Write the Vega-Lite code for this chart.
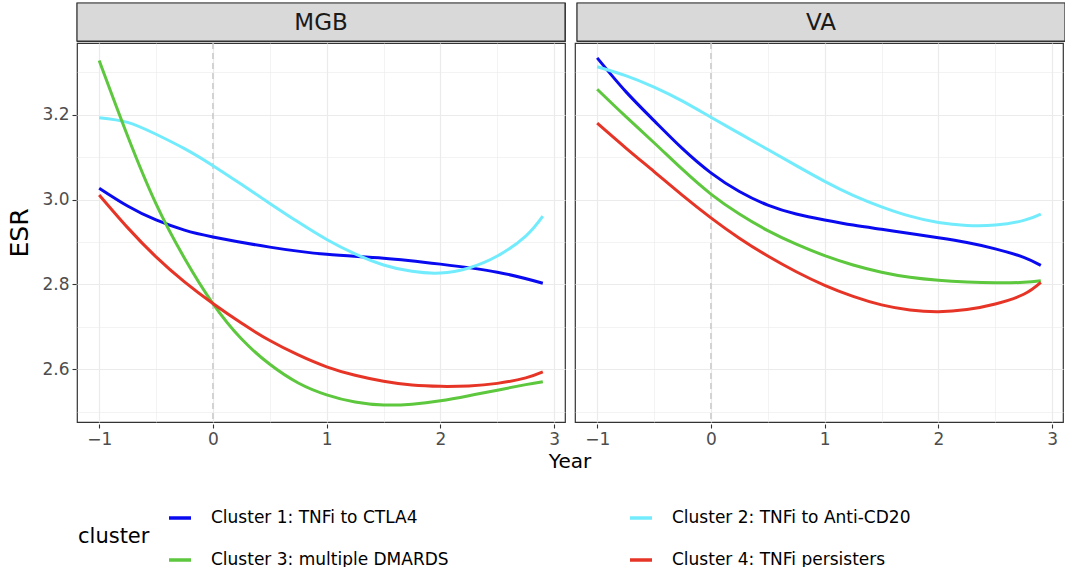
{
  "$schema": "https://vega.github.io/schema/vega-lite/v6.json",
  "padding": {"left": 7, "top": 1, "right": 0, "bottom": 0},
  "background": "white",
  "config": {
    "font": "DejaVu Sans",
    "view": {"stroke": "#333333", "strokeWidth": 1.2, "fill": "white"},
    "axis": {
      "domain": false,
      "tickColor": "#333333",
      "tickSize": 4,
      "tickWidth": 1.1,
      "labelColor": "#4D4D4D",
      "labelFontSize": 17,
      "labelFont": "DejaVu Sans",
      "gridColor": "#EBEBEB",
      "titleFont": "DejaVu Sans",
      "titleFontWeight": "normal",
      "titleColor": "#000000"
    },
    "legend": {"labelFont": "DejaVu Sans", "titleFont": "DejaVu Sans"}
  },
  "datasets": {
    "panels": [{"panel": "MGB"}, {"panel": "VA"}],
    "curves": [
      {"panel": "MGB", "cluster": "Cluster 1: TNFi to CTLA4", "year": -1, "esr": 3.027},
      {"panel": "MGB", "cluster": "Cluster 1: TNFi to CTLA4", "year": -0.75, "esr": 2.985},
      {"panel": "MGB", "cluster": "Cluster 1: TNFi to CTLA4", "year": -0.5, "esr": 2.952},
      {"panel": "MGB", "cluster": "Cluster 1: TNFi to CTLA4", "year": -0.25, "esr": 2.928},
      {"panel": "MGB", "cluster": "Cluster 1: TNFi to CTLA4", "year": 0, "esr": 2.912},
      {"panel": "MGB", "cluster": "Cluster 1: TNFi to CTLA4", "year": 0.5, "esr": 2.888},
      {"panel": "MGB", "cluster": "Cluster 1: TNFi to CTLA4", "year": 1, "esr": 2.871},
      {"panel": "MGB", "cluster": "Cluster 1: TNFi to CTLA4", "year": 1.5, "esr": 2.862},
      {"panel": "MGB", "cluster": "Cluster 1: TNFi to CTLA4", "year": 2, "esr": 2.848},
      {"panel": "MGB", "cluster": "Cluster 1: TNFi to CTLA4", "year": 2.5, "esr": 2.829},
      {"panel": "MGB", "cluster": "Cluster 1: TNFi to CTLA4", "year": 2.9, "esr": 2.803},
      {"panel": "MGB", "cluster": "Cluster 2: TNFi to Anti-CD20", "year": -1, "esr": 3.193},
      {"panel": "MGB", "cluster": "Cluster 2: TNFi to Anti-CD20", "year": -0.75, "esr": 3.182},
      {"panel": "MGB", "cluster": "Cluster 2: TNFi to Anti-CD20", "year": -0.5, "esr": 3.154},
      {"panel": "MGB", "cluster": "Cluster 2: TNFi to Anti-CD20", "year": -0.25, "esr": 3.12},
      {"panel": "MGB", "cluster": "Cluster 2: TNFi to Anti-CD20", "year": 0, "esr": 3.08},
      {"panel": "MGB", "cluster": "Cluster 2: TNFi to Anti-CD20", "year": 0.25, "esr": 3.036},
      {"panel": "MGB", "cluster": "Cluster 2: TNFi to Anti-CD20", "year": 0.5, "esr": 2.991},
      {"panel": "MGB", "cluster": "Cluster 2: TNFi to Anti-CD20", "year": 0.75, "esr": 2.947},
      {"panel": "MGB", "cluster": "Cluster 2: TNFi to Anti-CD20", "year": 1, "esr": 2.906},
      {"panel": "MGB", "cluster": "Cluster 2: TNFi to Anti-CD20", "year": 1.25, "esr": 2.872},
      {"panel": "MGB", "cluster": "Cluster 2: TNFi to Anti-CD20", "year": 1.5, "esr": 2.846},
      {"panel": "MGB", "cluster": "Cluster 2: TNFi to Anti-CD20", "year": 1.75, "esr": 2.831},
      {"panel": "MGB", "cluster": "Cluster 2: TNFi to Anti-CD20", "year": 2, "esr": 2.827},
      {"panel": "MGB", "cluster": "Cluster 2: TNFi to Anti-CD20", "year": 2.25, "esr": 2.839},
      {"panel": "MGB", "cluster": "Cluster 2: TNFi to Anti-CD20", "year": 2.5, "esr": 2.867},
      {"panel": "MGB", "cluster": "Cluster 2: TNFi to Anti-CD20", "year": 2.75, "esr": 2.914},
      {"panel": "MGB", "cluster": "Cluster 2: TNFi to Anti-CD20", "year": 2.9, "esr": 2.961},
      {"panel": "MGB", "cluster": "Cluster 3: multiple DMARDS", "year": -1, "esr": 3.328},
      {"panel": "MGB", "cluster": "Cluster 3: multiple DMARDS", "year": -0.75, "esr": 3.15},
      {"panel": "MGB", "cluster": "Cluster 3: multiple DMARDS", "year": -0.5, "esr": 2.99},
      {"panel": "MGB", "cluster": "Cluster 3: multiple DMARDS", "year": -0.25, "esr": 2.862},
      {"panel": "MGB", "cluster": "Cluster 3: multiple DMARDS", "year": 0, "esr": 2.755},
      {"panel": "MGB", "cluster": "Cluster 3: multiple DMARDS", "year": 0.25, "esr": 2.672},
      {"panel": "MGB", "cluster": "Cluster 3: multiple DMARDS", "year": 0.5, "esr": 2.612},
      {"panel": "MGB", "cluster": "Cluster 3: multiple DMARDS", "year": 0.75, "esr": 2.568},
      {"panel": "MGB", "cluster": "Cluster 3: multiple DMARDS", "year": 1, "esr": 2.54},
      {"panel": "MGB", "cluster": "Cluster 3: multiple DMARDS", "year": 1.25, "esr": 2.523},
      {"panel": "MGB", "cluster": "Cluster 3: multiple DMARDS", "year": 1.5, "esr": 2.516},
      {"panel": "MGB", "cluster": "Cluster 3: multiple DMARDS", "year": 1.75, "esr": 2.518},
      {"panel": "MGB", "cluster": "Cluster 3: multiple DMARDS", "year": 2, "esr": 2.526},
      {"panel": "MGB", "cluster": "Cluster 3: multiple DMARDS", "year": 2.25, "esr": 2.538},
      {"panel": "MGB", "cluster": "Cluster 3: multiple DMARDS", "year": 2.5, "esr": 2.551},
      {"panel": "MGB", "cluster": "Cluster 3: multiple DMARDS", "year": 2.75, "esr": 2.564},
      {"panel": "MGB", "cluster": "Cluster 3: multiple DMARDS", "year": 2.9, "esr": 2.571},
      {"panel": "MGB", "cluster": "Cluster 4: TNFi persisters", "year": -1, "esr": 3.011},
      {"panel": "MGB", "cluster": "Cluster 4: TNFi persisters", "year": -0.75, "esr": 2.934},
      {"panel": "MGB", "cluster": "Cluster 4: TNFi persisters", "year": -0.5, "esr": 2.865},
      {"panel": "MGB", "cluster": "Cluster 4: TNFi persisters", "year": -0.25, "esr": 2.806},
      {"panel": "MGB", "cluster": "Cluster 4: TNFi persisters", "year": 0, "esr": 2.755},
      {"panel": "MGB", "cluster": "Cluster 4: TNFi persisters", "year": 0.25, "esr": 2.709},
      {"panel": "MGB", "cluster": "Cluster 4: TNFi persisters", "year": 0.5, "esr": 2.668},
      {"panel": "MGB", "cluster": "Cluster 4: TNFi persisters", "year": 0.75, "esr": 2.634},
      {"panel": "MGB", "cluster": "Cluster 4: TNFi persisters", "year": 1, "esr": 2.606},
      {"panel": "MGB", "cluster": "Cluster 4: TNFi persisters", "year": 1.25, "esr": 2.586},
      {"panel": "MGB", "cluster": "Cluster 4: TNFi persisters", "year": 1.5, "esr": 2.572},
      {"panel": "MGB", "cluster": "Cluster 4: TNFi persisters", "year": 1.75, "esr": 2.563},
      {"panel": "MGB", "cluster": "Cluster 4: TNFi persisters", "year": 2, "esr": 2.56},
      {"panel": "MGB", "cluster": "Cluster 4: TNFi persisters", "year": 2.25, "esr": 2.561},
      {"panel": "MGB", "cluster": "Cluster 4: TNFi persisters", "year": 2.5, "esr": 2.567},
      {"panel": "MGB", "cluster": "Cluster 4: TNFi persisters", "year": 2.75, "esr": 2.58},
      {"panel": "MGB", "cluster": "Cluster 4: TNFi persisters", "year": 2.9, "esr": 2.594},
      {"panel": "VA", "cluster": "Cluster 1: TNFi to CTLA4", "year": -1, "esr": 3.334},
      {"panel": "VA", "cluster": "Cluster 1: TNFi to CTLA4", "year": -0.75, "esr": 3.255},
      {"panel": "VA", "cluster": "Cluster 1: TNFi to CTLA4", "year": -0.5, "esr": 3.186},
      {"panel": "VA", "cluster": "Cluster 1: TNFi to CTLA4", "year": -0.25, "esr": 3.12},
      {"panel": "VA", "cluster": "Cluster 1: TNFi to CTLA4", "year": 0, "esr": 3.063},
      {"panel": "VA", "cluster": "Cluster 1: TNFi to CTLA4", "year": 0.25, "esr": 3.019},
      {"panel": "VA", "cluster": "Cluster 1: TNFi to CTLA4", "year": 0.5, "esr": 2.987},
      {"panel": "VA", "cluster": "Cluster 1: TNFi to CTLA4", "year": 0.75, "esr": 2.966},
      {"panel": "VA", "cluster": "Cluster 1: TNFi to CTLA4", "year": 1, "esr": 2.952},
      {"panel": "VA", "cluster": "Cluster 1: TNFi to CTLA4", "year": 1.25, "esr": 2.94},
      {"panel": "VA", "cluster": "Cluster 1: TNFi to CTLA4", "year": 1.5, "esr": 2.93},
      {"panel": "VA", "cluster": "Cluster 1: TNFi to CTLA4", "year": 1.75, "esr": 2.92},
      {"panel": "VA", "cluster": "Cluster 1: TNFi to CTLA4", "year": 2, "esr": 2.91},
      {"panel": "VA", "cluster": "Cluster 1: TNFi to CTLA4", "year": 2.25, "esr": 2.899},
      {"panel": "VA", "cluster": "Cluster 1: TNFi to CTLA4", "year": 2.5, "esr": 2.884},
      {"panel": "VA", "cluster": "Cluster 1: TNFi to CTLA4", "year": 2.75, "esr": 2.864},
      {"panel": "VA", "cluster": "Cluster 1: TNFi to CTLA4", "year": 2.9, "esr": 2.845},
      {"panel": "VA", "cluster": "Cluster 2: TNFi to Anti-CD20", "year": -1, "esr": 3.313},
      {"panel": "VA", "cluster": "Cluster 2: TNFi to Anti-CD20", "year": -0.75, "esr": 3.292},
      {"panel": "VA", "cluster": "Cluster 2: TNFi to Anti-CD20", "year": -0.5, "esr": 3.265},
      {"panel": "VA", "cluster": "Cluster 2: TNFi to Anti-CD20", "year": -0.25, "esr": 3.232},
      {"panel": "VA", "cluster": "Cluster 2: TNFi to Anti-CD20", "year": 0, "esr": 3.194},
      {"panel": "VA", "cluster": "Cluster 2: TNFi to Anti-CD20", "year": 0.25, "esr": 3.156},
      {"panel": "VA", "cluster": "Cluster 2: TNFi to Anti-CD20", "year": 0.5, "esr": 3.118},
      {"panel": "VA", "cluster": "Cluster 2: TNFi to Anti-CD20", "year": 0.75, "esr": 3.08},
      {"panel": "VA", "cluster": "Cluster 2: TNFi to Anti-CD20", "year": 1, "esr": 3.043},
      {"panel": "VA", "cluster": "Cluster 2: TNFi to Anti-CD20", "year": 1.25, "esr": 3.01},
      {"panel": "VA", "cluster": "Cluster 2: TNFi to Anti-CD20", "year": 1.5, "esr": 2.983},
      {"panel": "VA", "cluster": "Cluster 2: TNFi to Anti-CD20", "year": 1.75, "esr": 2.961},
      {"panel": "VA", "cluster": "Cluster 2: TNFi to Anti-CD20", "year": 2, "esr": 2.946},
      {"panel": "VA", "cluster": "Cluster 2: TNFi to Anti-CD20", "year": 2.25, "esr": 2.939},
      {"panel": "VA", "cluster": "Cluster 2: TNFi to Anti-CD20", "year": 2.5, "esr": 2.94},
      {"panel": "VA", "cluster": "Cluster 2: TNFi to Anti-CD20", "year": 2.75, "esr": 2.951},
      {"panel": "VA", "cluster": "Cluster 2: TNFi to Anti-CD20", "year": 2.9, "esr": 2.966},
      {"panel": "VA", "cluster": "Cluster 3: multiple DMARDS", "year": -1, "esr": 3.26},
      {"panel": "VA", "cluster": "Cluster 3: multiple DMARDS", "year": -0.75, "esr": 3.196},
      {"panel": "VA", "cluster": "Cluster 3: multiple DMARDS", "year": -0.5, "esr": 3.134},
      {"panel": "VA", "cluster": "Cluster 3: multiple DMARDS", "year": -0.25, "esr": 3.071},
      {"panel": "VA", "cluster": "Cluster 3: multiple DMARDS", "year": 0, "esr": 3.013},
      {"panel": "VA", "cluster": "Cluster 3: multiple DMARDS", "year": 0.25, "esr": 2.966},
      {"panel": "VA", "cluster": "Cluster 3: multiple DMARDS", "year": 0.5, "esr": 2.927},
      {"panel": "VA", "cluster": "Cluster 3: multiple DMARDS", "year": 0.75, "esr": 2.895},
      {"panel": "VA", "cluster": "Cluster 3: multiple DMARDS", "year": 1, "esr": 2.868},
      {"panel": "VA", "cluster": "Cluster 3: multiple DMARDS", "year": 1.25, "esr": 2.846},
      {"panel": "VA", "cluster": "Cluster 3: multiple DMARDS", "year": 1.5, "esr": 2.829},
      {"panel": "VA", "cluster": "Cluster 3: multiple DMARDS", "year": 1.75, "esr": 2.817},
      {"panel": "VA", "cluster": "Cluster 3: multiple DMARDS", "year": 2, "esr": 2.81},
      {"panel": "VA", "cluster": "Cluster 3: multiple DMARDS", "year": 2.25, "esr": 2.806},
      {"panel": "VA", "cluster": "Cluster 3: multiple DMARDS", "year": 2.5, "esr": 2.804},
      {"panel": "VA", "cluster": "Cluster 3: multiple DMARDS", "year": 2.75, "esr": 2.805},
      {"panel": "VA", "cluster": "Cluster 3: multiple DMARDS", "year": 2.9, "esr": 2.809},
      {"panel": "VA", "cluster": "Cluster 4: TNFi persisters", "year": -1, "esr": 3.18},
      {"panel": "VA", "cluster": "Cluster 4: TNFi persisters", "year": -0.75, "esr": 3.122},
      {"panel": "VA", "cluster": "Cluster 4: TNFi persisters", "year": -0.5, "esr": 3.066},
      {"panel": "VA", "cluster": "Cluster 4: TNFi persisters", "year": -0.25, "esr": 3.01},
      {"panel": "VA", "cluster": "Cluster 4: TNFi persisters", "year": 0, "esr": 2.957},
      {"panel": "VA", "cluster": "Cluster 4: TNFi persisters", "year": 0.25, "esr": 2.909},
      {"panel": "VA", "cluster": "Cluster 4: TNFi persisters", "year": 0.5, "esr": 2.867},
      {"panel": "VA", "cluster": "Cluster 4: TNFi persisters", "year": 0.75, "esr": 2.83},
      {"panel": "VA", "cluster": "Cluster 4: TNFi persisters", "year": 1, "esr": 2.798},
      {"panel": "VA", "cluster": "Cluster 4: TNFi persisters", "year": 1.25, "esr": 2.772},
      {"panel": "VA", "cluster": "Cluster 4: TNFi persisters", "year": 1.5, "esr": 2.752},
      {"panel": "VA", "cluster": "Cluster 4: TNFi persisters", "year": 1.75, "esr": 2.74},
      {"panel": "VA", "cluster": "Cluster 4: TNFi persisters", "year": 2, "esr": 2.736},
      {"panel": "VA", "cluster": "Cluster 4: TNFi persisters", "year": 2.25, "esr": 2.741},
      {"panel": "VA", "cluster": "Cluster 4: TNFi persisters", "year": 2.5, "esr": 2.754},
      {"panel": "VA", "cluster": "Cluster 4: TNFi persisters", "year": 2.75, "esr": 2.777},
      {"panel": "VA", "cluster": "Cluster 4: TNFi persisters", "year": 2.9, "esr": 2.805}
    ]
  },
  "spacing": -3,
  "vconcat": [
    {
      "data": {"name": "panels"},
      "facet": {"column": {"field": "panel", "type": "nominal", "header": {"title": null, "labels": false, "labelPadding": 0, "titlePadding": 0}}},
      "spacing": 8,
      "spec": {
        "width": 488, "height": 38,
        "layer": [
          {
            "mark": {"type": "rect", "color": "#D9D9D9", "stroke": "#333333", "strokeWidth": 1.2},
            "encoding": {"x": {"value": 0}, "x2": {"value": "width"}, "y": {"value": 0}, "y2": {"value": "height"}}
          },
          {
            "mark": {"type": "text", "fontSize": 23, "color": "#1A1A1A", "font": "DejaVu Sans", "baseline": "middle", "dy": 1},
            "encoding": {"text": {"field": "panel", "type": "nominal"}}
          }
        ]
      }
    },
    {
      "data": {"name": "curves"},
      "facet": {
        "column": {
          "field": "panel", "type": "nominal",
          "header": {
            "title": "Year", "titleOrient": "bottom", "titleFontSize": 20, "titleFont": "DejaVu Sans", "titleColor": "#000000",
            "titleFontWeight": "normal", "titlePadding": -5, "labels": false, "labelPadding": 0
          }
        }
      },
      "spacing": 8,
      "spec": {
        "width": 488, "height": 379,
        "layer": [
          {
            "transform": [{"filter": "datum.year == 0 && datum.cluster == 'Cluster 1: TNFi to CTLA4'"}],
            "mark": {"type": "rule", "strokeDash": [6, 4], "color": "#BEBEBE", "strokeWidth": 1.2},
            "encoding": {"x": {"field": "year", "type": "quantitative", "scale": {"domain": [-1.195, 3.095], "nice": false, "zero": false}}}
          },
          {
            "mark": {"type": "line", "interpolate": "natural", "strokeWidth": 3},
            "encoding": {
              "x": {
                "field": "year", "type": "quantitative",
                "scale": {"domain": [-1.195, 3.095], "nice": false, "zero": false},
                "axis": {
                  "title": null,
                  "values": [-1, -0.5, 0, 0.5, 1, 1.5, 2, 2.5, 3],
                  "labelExpr": "datum.value % 1 == 0 ? format(datum.value, 'd') : ''",
                  "tickOpacity": {"condition": {"test": "datum.value % 1 == 0", "value": 1}, "value": 0},
                  "gridWidth": {"condition": {"test": "datum.value % 1 == 0", "value": 1.2}, "value": 0.6},
                  "labelPadding": 3
                }
              },
              "y": {
                "field": "esr", "type": "quantitative",
                "scale": {"domain": [2.476, 3.369], "nice": false, "zero": false},
                "axis": {
                  "title": "ESR", "titlePadding": 9, "titleFontSize": 25,
                  "values": [2.5, 2.6, 2.7, 2.8, 2.9, 3.0, 3.1, 3.2, 3.3],
                  "labelExpr": "round(datum.value * 10) % 2 == 0 ? format(datum.value, '.1f') : ''",
                  "tickOpacity": {"condition": {"test": "round(datum.value * 10) % 2 == 0", "value": 1}, "value": 0},
                  "gridWidth": {"condition": {"test": "round(datum.value * 10) % 2 == 0", "value": 1.2}, "value": 0.6},
                  "labelPadding": 3
                }
              },
              "color": {
                "field": "cluster", "type": "nominal",
                "scale": {
                  "domain": ["Cluster 1: TNFi to CTLA4", "Cluster 2: TNFi to Anti-CD20", "Cluster 3: multiple DMARDS", "Cluster 4: TNFi persisters"],
                  "range": ["#0A0AF0", "#72ECFC", "#5DC73E", "#E63426"]
                },
                "legend": {
                  "title": "cluster", "orient": "none", "legendX": 1, "legendY": 502,
                  "direction": "horizontal", "columns": 2, "titleOrient": "left", "titleAnchor": "middle",
                  "titleFontSize": 21, "titleFontWeight": "normal", "titleColor": "#000000", "titlePadding": 17,
                  "symbolType": "stroke", "symbolStrokeWidth": 3.5, "symbolSize": 484,
                  "labelFontSize": 17, "labelColor": "#000000", "labelLimit": 400, "labelOffset": 18,
                  "rowPadding": 21, "columnPadding": 174
                }
              },
              "detail": {"field": "cluster"}
            }
          }
        ]
      }
    }
  ]
}
